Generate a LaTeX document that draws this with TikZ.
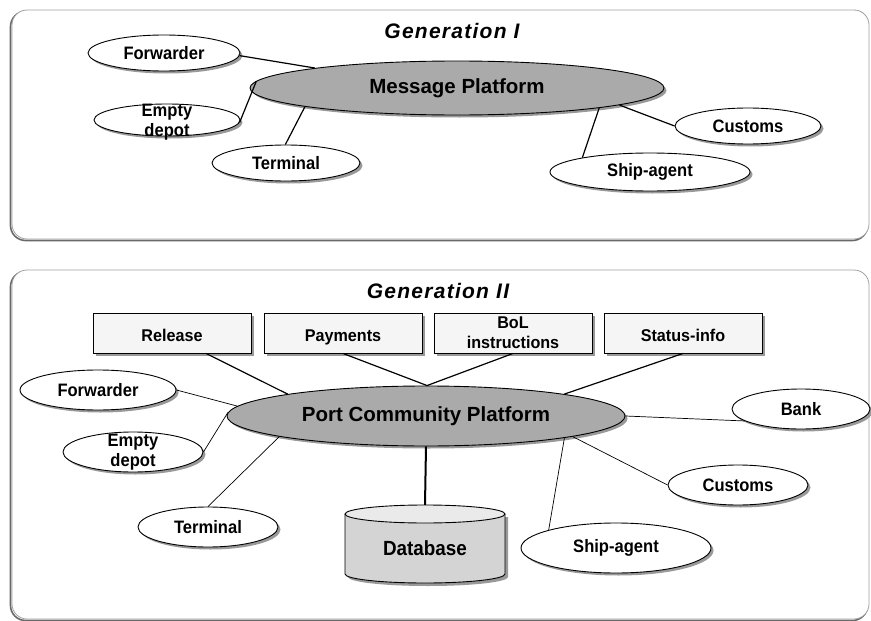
\documentclass[tikz,border=0pt]{standalone}
\usepackage{fontspec}
\setmainfont{Liberation Sans}
\newfontfamily\narrowsans{Liberation Sans}[FakeStretch=0.92]
\newfontfamily\boxsans{Liberation Sans}[FakeStretch=0.95]
\usetikzlibrary{shapes.geometric,shadows,calc}
\definecolor{platfill}{RGB}{170,170,170}
\definecolor{boxfill}{RGB}{245,245,245}
\definecolor{dbbody}{RGB}{212,212,212}
\definecolor{dbtop}{RGB}{234,234,234}
\definecolor{panelline}{RGB}{160,160,160}
\definecolor{panelshade}{RGB}{105,105,105}

\begin{document}
\begin{tikzpicture}[x=1pt,y=-1pt,
  shade/.style={drop shadow={shadow xshift=2.5pt,shadow yshift=-2.5pt,fill=black!40,opacity=1}},
  party/.style={ellipse,draw=black,line width=0.9pt,fill=white,inner sep=0pt,shade},
  lbl/.style={font=\narrowsans\fontsize{18}{20.5}\selectfont\bfseries,align=center,inner sep=0pt},
  platform/.style={ellipse,draw=black,line width=0.9pt,fill=platfill,inner sep=0pt,shade,
    font=\fontsize{20.5}{24}\selectfont\bfseries},
  service/.style={rectangle,draw=black,line width=0.9pt,fill=boxfill,inner sep=0pt,
    minimum width=158pt,minimum height=40pt,shade,
    font=\boxsans\fontsize{17}{20}\selectfont\bfseries,align=center},
  oneline/.style={text height=19pt,text depth=2pt},
  gentitle/.style={font=\fontsize{21}{24}\selectfont\bfseries\itshape\addfontfeature{LetterSpace=6}},
  link/.style={line width=1.2pt},
  thinlink/.style={line width=0.7pt},
  panel/.style={draw=panelline,line width=0.8pt,fill=white,rounded corners=15pt},
  panelshadow/.style={draw=panelshade,line width=1.6pt,rounded corners=15pt},
]
\useasboundingbox (0,0) rectangle (871,621);

% ---------- panels ----------
\draw[panelshadow] (10.5,11.5) rectangle (867.5,240.5);
\draw[panel] (12,10) rectangle (869,239);
\draw[panelshadow] (10.5,271.5) rectangle (867.5,620.5);
\draw[panel] (12,270) rectangle (869,619);

% ---------- Generation I ----------
\node[gentitle] (g1) at (452,31) {Generation I};

\node[platform,minimum width=414pt,minimum height=54pt] (mp) at (457,88) {Message Platform};

\node[party,minimum width=152pt,minimum height=36pt,label={[lbl]center:Forwarder}] (fw1) at (164,53) {};
\node[party,minimum width=146pt,minimum height=32pt,label={[lbl,yshift=-2pt]center:{Empty\\depot}}] (ed1) at (167,120) {};
\node[party,minimum width=148pt,minimum height=36pt,label={[lbl]center:Terminal}] (tm1) at (286,163) {};
\node[party,minimum width=146pt,minimum height=36pt,label={[lbl]center:Customs}] (cu1) at (748,126) {};
\node[party,minimum width=200pt,minimum height=38pt,label={[lbl]center:Ship-agent}] (sa1) at (650,172) {};

\draw[link] (mp.172) -- (fw1.358);
\draw[link] (mp.178) -- (ed1.358);
\draw[link] (mp.187) -- (tm1.92);
\draw[link] (mp.352) -- (sa1.168);
\draw[link] (mp.354) -- (cu1.180);

% ---------- Generation II ----------
\node[gentitle] (g2) at (438,291) {Generation II};

\node[service,oneline] (rel) at (172,333) {Release};
\node[service,oneline] (pay) at (343,333) {Payments};
\node[service] (bol) at (513,333) {BoL\\instructions};
\node[service,oneline] (sti) at (683,333) {Status-info};

\node[platform,minimum width=398pt,minimum height=60pt] (pcp) at (426,416) {Port Community Platform};

\node[party,minimum width=156pt,minimum height=40pt,label={[lbl]center:Forwarder}] (fw2) at (98,390) {};
\node[party,minimum width=140pt,minimum height=40pt,label={[lbl]center:{Empty\\depot}}] (ed2) at (133,452) {};
\node[party,minimum width=140pt,minimum height=40pt,label={[lbl]center:Terminal}] (tm2) at (208,527) {};
\node[party,minimum width=138pt,minimum height=40pt,label={[lbl]center:Bank}] (bk) at (801,409) {};
\node[party,minimum width=140pt,minimum height=40pt,label={[lbl]center:Customs}] (cu2) at (738,485) {};
\node[party,minimum width=190pt,minimum height=50pt,label={[lbl]center:Ship-agent}] (sa2) at (616,548) {};

% database cylinder
\fill[black!40] (348,517) -- (348,577) arc[start angle=180,end angle=360,x radius=80pt,y radius=9pt] -- (508,517) -- cycle;
\fill[dbbody] (345,514) -- (345,574) arc[start angle=180,end angle=360,x radius=80pt,y radius=9pt] -- (505,514) -- cycle;
\draw[line width=0.9pt] (345,514) -- (345,574) arc[start angle=180,end angle=360,x radius=80pt,y radius=9pt] -- (505,514);
\draw[line width=0.9pt,fill=dbtop] (425,514) ellipse [x radius=80pt,y radius=9pt];
\node[font=\narrowsans\fontsize{20.5}{22}\selectfont\bfseries,minimum height=86pt,inner sep=0pt] (db) at (425,548) {Database};

\draw[link] (rel.329) -- (pcp.171);
\draw[link] (pay.south) -- (pcp.88);
\draw[link] (bol.south) -- (pcp.88);
\draw[link] (sti.south) -- (pcp.9);
\draw[thinlink] (fw2.0) -- (pcp.177);
\draw[thinlink] (ed2.0) -- (pcp.179);
\draw[thinlink] (tm2.90) -- (pcp.188);
\draw[thinlink] (pcp.0) -- (bk.192);
\draw[thinlink] (pcp.352) -- (cu2.180);
\draw[thinlink] (pcp.351) -- (sa2.165);
\draw[line width=2pt] (pcp.south) -- (db.north);
\end{tikzpicture}
\end{document}
